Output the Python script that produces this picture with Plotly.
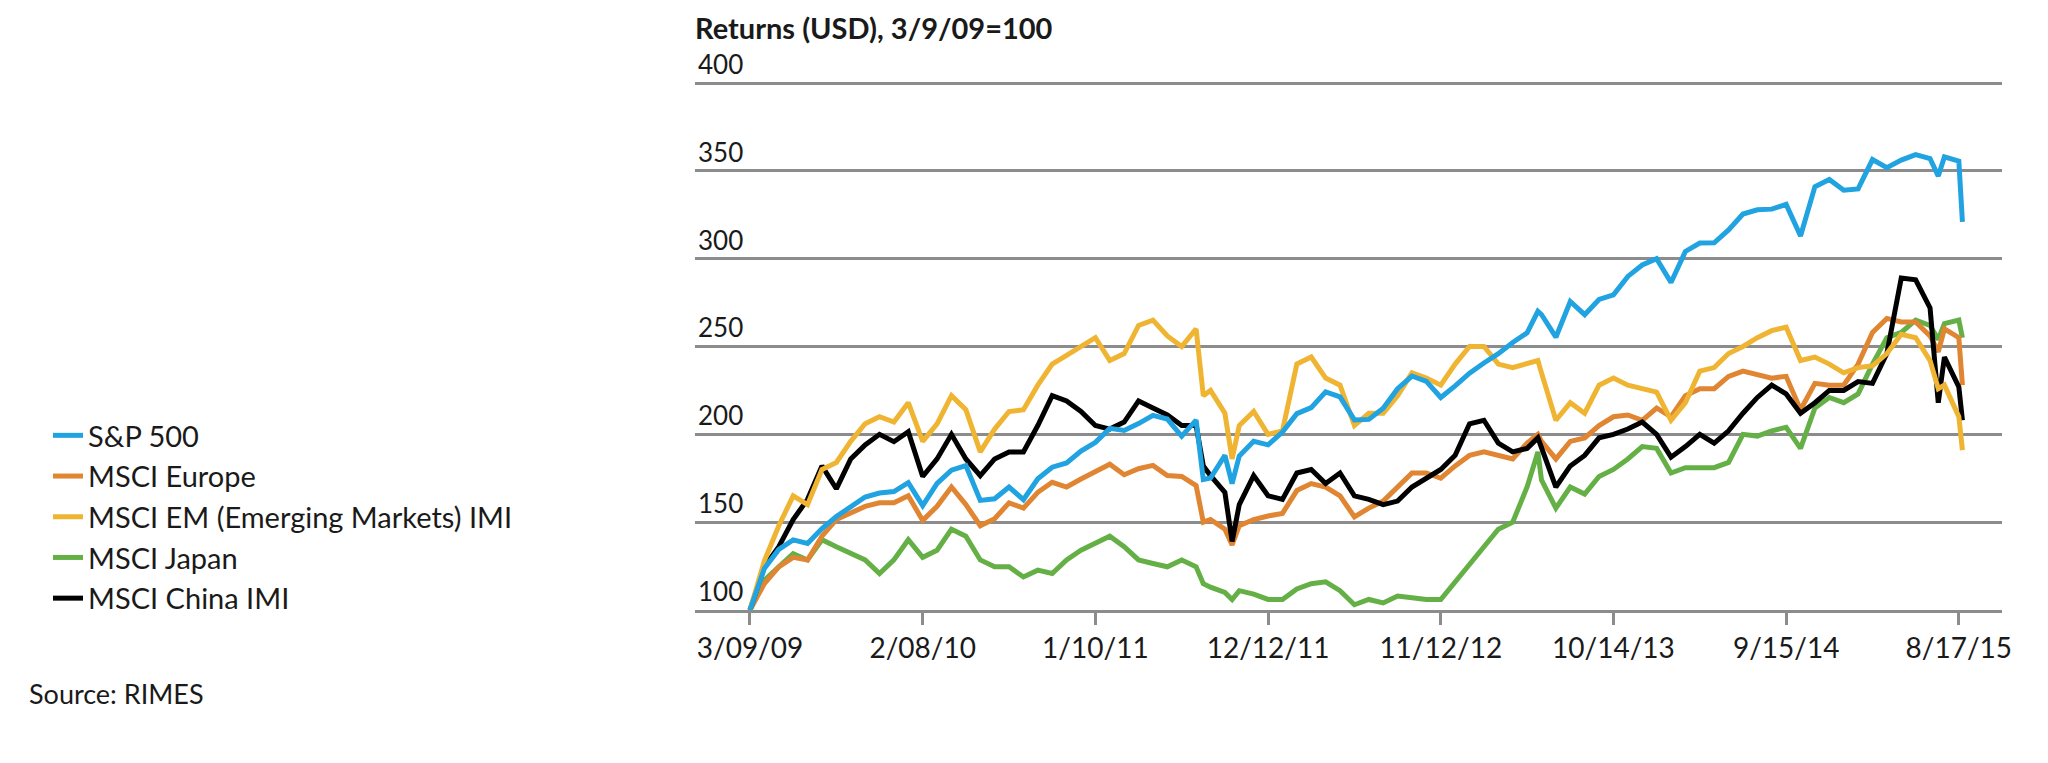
import plotly.graph_objects as go

# ---- data ----
dates = [
    "2009-03-09", "2009-04-06", "2009-05-04", "2009-06-01", "2009-06-29", "2009-07-27",
    "2009-08-24", "2009-09-21", "2009-10-19", "2009-11-16", "2009-12-14",
    "2010-01-11", "2010-02-08", "2010-03-08", "2010-04-05", "2010-05-03", "2010-05-31",
    "2010-06-28", "2010-07-26", "2010-08-23", "2010-09-20", "2010-10-18", "2010-11-15",
    "2010-12-13",
    "2011-01-10", "2011-02-07", "2011-03-07", "2011-04-04", "2011-05-02", "2011-05-30",
    "2011-06-27", "2011-07-25", "2011-08-08", "2011-08-22", "2011-09-19", "2011-10-03",
    "2011-10-17", "2011-11-14", "2011-12-12",
    "2012-01-09", "2012-02-06", "2012-03-05", "2012-04-02", "2012-04-30", "2012-05-28",
    "2012-06-25", "2012-07-23", "2012-08-20", "2012-09-17", "2012-10-15", "2012-11-12",
    "2012-12-10",
    "2013-01-07", "2013-02-04", "2013-03-04", "2013-04-01", "2013-04-29", "2013-05-20",
    "2013-05-27", "2013-06-24", "2013-07-22", "2013-08-19", "2013-09-16", "2013-10-14",
    "2013-11-11", "2013-12-09",
    "2014-01-06", "2014-02-03", "2014-03-03", "2014-03-31", "2014-04-28", "2014-05-26",
    "2014-06-23", "2014-07-21", "2014-08-18", "2014-09-15", "2014-10-13", "2014-11-10",
    "2014-12-08",
    "2015-01-05", "2015-02-02", "2015-03-02", "2015-03-30", "2015-04-27", "2015-05-25",
    "2015-06-22", "2015-07-08", "2015-07-20", "2015-08-17", "2015-08-24",
]

sp500 = [
    100, 123.6, 134.5, 139.9, 137.9, 146.4, 153.2, 159.1, 164.3, 166.6, 167.4,
    172.5, 159.4, 172.1, 179.6, 182.2, 162.4, 163.3, 170.0, 162.8, 174.7, 181.3, 183.7, 190.5,
    195.4, 203.4, 202.2, 206.1, 210.8, 208.7, 198.9, 208.1, 174.3, 175.1, 188.0, 171.9,
    187.7, 196.0, 194.0,
    201.3, 211.8, 215.2, 224.2, 221.3, 208.2, 208.5, 214.8, 226.0, 233.2, 230.2, 221.0, 227.6,
    234.8, 240.6, 245.9, 252.3, 257.8, 270.0, 268.2, 255.3, 275.6, 268.1, 276.8, 279.4,
    289.9, 296.4,
    300.0, 286.4, 304.1, 308.9, 309.0, 316.4, 325.4, 327.8, 328.2, 330.9, 312.9, 341.0, 345.1,
    339.0, 339.7, 356.4, 351.8, 356.1, 359.2, 357.0, 347.0, 358.0, 355.5, 321.0,
]

europe = [
    100, 115, 124.6, 130, 128.5, 142, 151.5, 155, 159, 161, 161,
    165, 151, 159, 170, 160, 148, 152, 161, 158, 167, 172.7, 170, 174.6,
    178.5, 183, 177, 180.4, 182.3, 176.5, 176, 170.8, 150, 151.5, 146, 137,
    148, 151.5, 153.5,
    155, 168, 172, 170, 165, 153, 158, 162, 170, 178, 178, 175, 182,
    188, 190, 188, 186, 195, 200, 196, 186, 196, 198, 205, 210,
    211, 208,
    215, 210, 222, 226, 226, 233, 236, 234, 232, 233, 214, 229, 228,
    228, 240, 258, 266, 264, 264, 256, 247, 260, 255, 228,
]

em_imi = [
    100, 128, 148, 165, 160, 180, 184, 196, 206, 210, 207,
    218, 196, 206, 222, 214, 190, 203, 213, 214, 228, 240, 245, 250,
    255, 242, 246, 262, 265, 256, 250, 260, 222, 225, 212, 186,
    205, 213, 200,
    202, 240, 244, 232, 228, 205, 212, 212, 222, 235, 232, 228, 240,
    250, 250, 240, 238, 240, 242, 235, 208, 218, 212, 228, 232,
    228, 226,
    224, 208, 218, 236, 238, 246, 250, 255, 259, 261, 242, 244, 240,
    235, 238, 239, 246, 257, 255, 242, 226, 228, 210, 191,
]

japan = [
    100, 117, 124.6, 132, 128.5, 140, 136, 132, 128.5, 120.8, 128.5,
    140, 130, 134, 146, 142, 128.5, 124.6, 124.6, 118.8, 122.7, 120.8, 128.5, 134,
    138, 142, 136, 128.5, 126.5, 124.6, 128.5, 124.6, 115, 113, 110, 106,
    111, 109, 106,
    106, 112, 115, 116, 111, 103, 106, 104, 108, 107, 106, 106, 116,
    126, 136, 146, 150, 170, 190, 174, 158, 170, 166, 176, 180,
    186, 193,
    192, 178, 181, 181, 181, 184, 200, 199, 202, 204, 192, 215, 221,
    218, 223, 240, 255, 258, 265, 262, 254, 263, 265, 255,
]

china_imi = [
    100, 124.6, 136, 151.5, 163, 182, 169, 186, 194, 200, 195.8,
    201.5, 176, 186, 200, 186, 176.5, 186, 190, 190, 205, 222, 219, 213,
    205, 203, 207, 219, 215, 211, 205, 205, 182, 176.5, 167, 139,
    160, 176.5, 165,
    163, 178, 180, 172, 178, 165, 163, 160, 162, 170, 175, 180, 188,
    206, 208, 195, 190, 192, 198, 192, 170, 182, 188, 198, 200,
    203, 207,
    200, 187, 193, 200, 195, 202, 212, 221, 228, 223, 212, 218, 225,
    225, 230, 229, 246, 289, 288, 272, 218, 244, 227, 208,
]

x_tick_vals = ["2009-03-09", "2010-02-08", "2011-01-10", "2011-12-12",
               "2012-11-12", "2013-10-14", "2014-09-15", "2015-08-17"]
x_tick_text = ["3/09/09", "2/08/10", "1/10/11", "12/12/11",
               "11/12/12", "10/14/13", "9/15/14", "8/17/15"]
y_tick_vals = [100, 150, 200, 250, 300, 350, 400]

# ---- styling ----
FONT = "Lato"
TEXT = "#1a1a1a"
GRID = "#8c8c8c"

series = [  # drawn in this order (last on top); rank sets the legend order
    ("MSCI Japan", japan, "#64B046", 4),
    ("MSCI Europe", europe, "#E08532", 2),
    ("MSCI China IMI", china_imi, "#000000", 5),
    ("MSCI EM (Emerging Markets) IMI", em_imi, "#F0B433", 3),
    ("S&P 500", sp500, "#20A3E0", 1),
]

fig = go.Figure()
for name, vals, color, rank in series:
    fig.add_trace(go.Scatter(
        x=dates, y=vals, name=name, mode="lines",
        line=dict(color=color, width=5),
        legendrank=rank,
    ))

# page offset of the figure (default body margin of the html page)
OFF = 8
W, H = 2048 - OFF, 763 - OFF
# plot area in page pixels
PX_L, PX_R, PX_T, PX_B = 695, 2002, 40, 610
L, R, T, B = PX_L - OFF, W - (PX_R - OFF), PX_T - OFF, H - (PX_B - OFF)
pw, ph = PX_R - PX_L, PX_B - PX_T

# y: 100 at page 610, 400 at page 83
units_per_px = 300.0 / (610 - 83)
y_top = 400 + (83 - PX_T) * units_per_px

def px_x(p):
    return (p - PX_L) / pw

def px_y(p):
    return (PX_B - p) / ph

fig.update_layout(
    width=W, height=H,
    margin=dict(l=L, r=R, t=T, b=B, autoexpand=False),
    paper_bgcolor="white", plot_bgcolor="white",
    font=dict(family=FONT, color=TEXT, size=26),
    title=dict(
        text="Returns (USD), 3/9/09=100",
        font=dict(family=FONT, size=29, color=TEXT, weight=700),
        x=0, xref="paper", xanchor="left",
        y=1 - (29 - OFF) / H, yref="container", yanchor="middle",
    ),
    showlegend=True,
    legend=dict(
        x=px_x(48), y=px_y(410), xanchor="left", yanchor="top",
        font=dict(family=FONT, size=29, color=TEXT),
        bgcolor="rgba(0,0,0,0)", tracegroupgap=0,
    ),
    xaxis=dict(
        type="date",
        range=["2008-11-22", "2015-11-09"],
        tickvals=x_tick_vals, ticktext=x_tick_text,
        tickfont=dict(family=FONT, size=28, color=TEXT),
        showgrid=False, zeroline=False,
        showline=True, linecolor=GRID, linewidth=2.5,
        ticks="outside", ticklen=12, tickwidth=2.5, tickcolor=GRID,
    ),
    yaxis=dict(
        range=[100, y_top],
        tickvals=y_tick_vals,
        ticklabelposition="inside top",
        tickfont=dict(family=FONT, size=26, color=TEXT),
        showgrid=True, gridcolor=GRID, gridwidth=2.5,
        zeroline=False, showline=False, ticks="",
    ),
    annotations=[dict(
        text="Source: RIMES", xref="paper", yref="paper",
        x=px_x(27), y=px_y(693), xanchor="left", yanchor="middle",
        showarrow=False, font=dict(family=FONT, size=27, color=TEXT),
    )],
)

fig.write_html("out.html")
